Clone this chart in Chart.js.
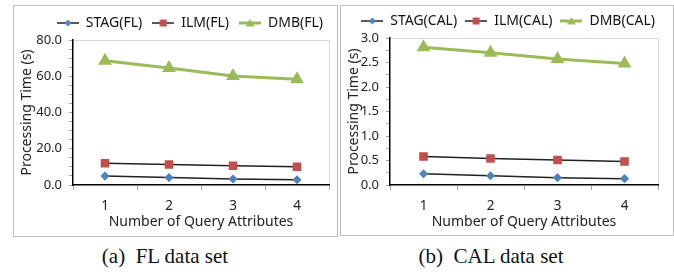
<!DOCTYPE html>
<html>
<head>
<meta charset="utf-8">
<script src="https://cdn.jsdelivr.net/npm/chart.js@4"></script>
<style>
body { margin: 0; background: #fff; width: 674px; height: 276px; position: relative; overflow: hidden; }
.box { position: absolute; border: 1px solid #bfbfbf; box-sizing: border-box; }
.box canvas { position: absolute; left: 0; top: 0; }
.cap { position: absolute; font-family: "Liberation Serif", "Times New Roman", serif; font-size: 21px; color: #111; white-space: pre; transform: translateX(-50%); }
</style>
</head>
<body>
<div class="box" style="left:13px; top:5px; width:325px; height:232px;"><canvas id="flChart"></canvas></div>
<div class="box" style="left:340px; top:5px; width:334px; height:231px;"><canvas id="calChart"></canvas></div>
<div class="cap" style="left:165px; top:244px;">(a)  FL data set</div>
<div class="cap" style="left:491px; top:244px;">(b)  CAL data set</div>
<script>
// values
attributes = ["1", "2", "3", "4"]

flNames = ["STAG(FL)", "ILM(FL)", "DMB(FL)"]
flStag = [4.9, 4.1, 3.3, 2.9]
flIlm = [12.0, 11.3, 10.6, 10.1]
flDmb = [68.6, 64.6, 60.2, 58.3]

calNames = ["STAG(CAL)", "ILM(CAL)", "DMB(CAL)"]
calStag = [0.23, 0.19, 0.15, 0.13]
calIlm = [0.58, 0.54, 0.51, 0.48]
calDmb = [2.81, 2.70, 2.57, 2.48]

// excel 2007 style colours
blue = "#4f81bd"
red = "#c0504d"
green = "#9bbb59"
font = "'Noto Sans', 'Open Sans', sans-serif"

// small line + marker picture for the legend
function legendIcon(lineColor, lineWidth, markColor, mark) {
    c = document.createElement("canvas")
    c.width = 22
    c.height = 12
    g = c.getContext("2d")
    g.strokeStyle = lineColor
    g.lineWidth = lineWidth
    g.beginPath()
    g.moveTo(0, 6)
    g.lineTo(22, 6)
    g.stroke()
    g.fillStyle = markColor
    g.beginPath()
    if (mark == "diamond") {
        g.moveTo(11, 2.5); g.lineTo(14.5, 6); g.lineTo(11, 9.5); g.lineTo(7.5, 6)
    } else if (mark == "square") {
        g.rect(7.5, 2.5, 7, 7)
    } else {
        g.moveTo(11, 2); g.lineTo(15.5, 9.5); g.lineTo(6.5, 9.5)
    }
    g.closePath()
    g.fill()
    return c
}

icons = [
    legendIcon("#222", 1.5, blue, "diamond"),
    legendIcon("#222", 1.5, red, "square"),
    legendIcon(green, 3, green, "triangle")
]

function makeChart(id, names, stag, ilm, dmb, yMax, yStep, yMinor, yWidth, rightPad, extraRight, xHeight, titleBottom) {
    Chart.defaults.font.family = font
    Chart.defaults.color = "#222"

    scales = {
        x: {
            offset: true,
            afterFit: (scale) => { scale.height = xHeight },
            grid: {
                offset: true,
                color: (ctx) => ctx.tick ? 'transparent' : '#d9d9d9',
                tickColor: '#a6a6a6',
                tickLength: 5
            },
            border: { color: '#000', width: 1.5 },
            ticks: { font: { size: 13.5 }, padding: 8 },
            title: {
                display: true,
                text: "Number of Query Attributes",
                font: { size: 14 },
                padding: { top: 0, bottom: titleBottom }
            }
        },
        y: {
            min: 0,
            max: yMax,
            afterFit: (scale) => { scale.width = yWidth },
            grid: {
                color: (ctx) => ctx.tick && ctx.tick.value == yMax ? '#d9d9d9' : 'transparent',
                tickColor: '#a6a6a6',
                tickLength: 4
            },
            border: { color: '#000', width: 1.5 },
            ticks: {
                stepSize: yMinor,
                autoSkip: false,
                font: { size: 13 },
                padding: 7,
                callback: (value) => {
                    if (Math.abs(Math.round(value / yStep) * yStep - value) < 1e-6) {
                        return value.toFixed(1)
                    }
                    return ""
                }
            },
            title: {
                display: true,
                text: "Processing Time (s)",
                font: { size: 14 },
                padding: { top: 5, bottom: 0 }
            }
        }
    }

    // empty right-hand axis, only keeps the plot off the right edge
    if (extraRight > 0) {
        scales.pad = {
            position: 'right',
            display: true,
            afterFit: (scale) => { scale.width = extraRight },
            grid: { display: false },
            border: { display: false },
            ticks: { display: false }
        }
    }

    return new Chart(document.getElementById(id), {
        type: 'line',
        data: {
            labels: attributes,
            datasets: [{
                label: names[0],
                data: stag,
                borderColor: "#222",
                borderWidth: 1.5,
                pointStyle: 'rectRot',
                pointRadius: 3.5,
                pointBackgroundColor: blue,
                pointBorderColor: blue
            }, {
                label: names[1],
                data: ilm,
                borderColor: "#222",
                borderWidth: 1.5,
                pointStyle: 'rect',
                pointRadius: 5,
                pointBackgroundColor: red,
                pointBorderColor: red
            }, {
                label: names[2],
                data: dmb,
                borderColor: green,
                borderWidth: 3,
                pointStyle: 'triangle',
                pointRadius: 5,
                pointBackgroundColor: green,
                pointBorderColor: green
            }]
        },
        options: {
            responsive: false,
            animation: false,
            layout: {
                padding: { left: 0, right: rightPad, top: 0, bottom: 0 }
            },
            scales: scales,
            plugins: {
                tooltip: { enabled: false },
                legend: {
                    align: 'end',
                    labels: {
                        usePointStyle: true,
                        pointStyleWidth: 22,
                        padding: rightPad == 4 ? 10 : 8,
                        font: { size: 14 },
                        color: "#111",
                        generateLabels: (chart) => {
                            items = Chart.defaults.plugins.legend.labels.generateLabels(chart)
                            items.forEach((item, i) => { item.pointStyle = icons[i] })
                            return items
                        }
                    }
                }
            }
        }
    })
}

document.getElementById("flChart").width = 323
document.getElementById("flChart").height = 230
document.getElementById("calChart").width = 332
document.getElementById("calChart").height = 229

makeChart("flChart", flNames, flStag, flIlm, flDmb, 80, 20, 5, 59, 4, 0, 51, 6)
makeChart("calChart", calNames, calStag, calIlm, calDmb, 3, 0.5, 0.25, 49, 10, 5, 50, 5)
</script>
</body>
</html>
